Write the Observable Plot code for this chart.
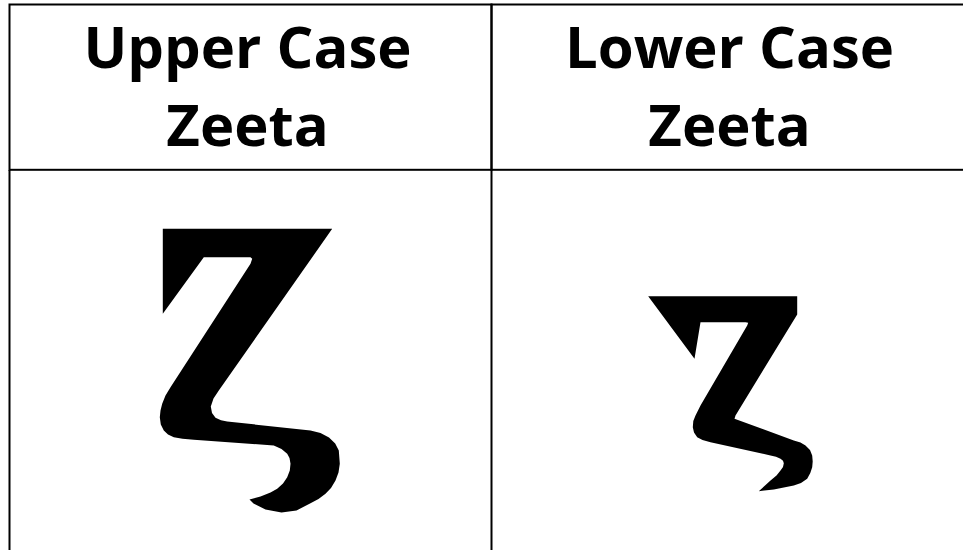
<!DOCTYPE html>
<html>
<head>
<meta charset="utf-8">
<script src="https://cdn.jsdelivr.net/npm/d3@7"></script>
<script src="https://cdn.jsdelivr.net/npm/@observablehq/plot@0.6"></script>
<style>
  html, body { margin: 0; padding: 0; background: #fff; overflow: hidden; width: 963px; height: 550px; }
  svg { display: block; max-width: none !important; }
</style>
</head>
<body>
<div id="chart"></div>
<script>
// Table columns (header text)
const columns = ["Upper Case\nZeeta", "Lower Case\nZeeta"];

// Glyph outlines, in cell units
// (u: offset from cell centre, v: distance down from the top of the body row)
const upperZetaU = [-87.7, 81.7, -31.7, -37, -39.7, -38.5, -35, -29.5, -23.3, 60, 70, 78.5, 84.7, 88.3, 89.3, 88, 85, 80.5, 75, 68, 60, 46, 31, 15, 3, -1, 10, 20, 26.7, 32.5, 36.7, 39.3, 40, 39, 36.7, 31, 23.3, -56.7, -68, -76.7, -82.5, -86.7, -89.7, -90.7, -90, -88.3, -85, -80, 0, 1.7, 0, -46.7, -87.7];
const upperZetaV = [58.3, 58.3, 220, 228, 236, 242.5, 247.3, 249.8, 251, 260, 262.5, 267, 273, 280, 293.3, 302, 310, 317.5, 323.3, 328.5, 332.7, 340, 342, 339, 333, 329, 326, 322, 318.3, 313, 306.7, 300, 293.3, 287.5, 283.3, 278.5, 275, 269.3, 268.3, 266.7, 264, 260, 254, 246.7, 240, 233.3, 225, 216.7, 93.3, 88.3, 86.7, 86.7, 143.3];

const lowerZetaU = [-84.3, 64.7, 64.7, 3, 2, 61.3, 68, 73, 77.5, 79.7, 80.2, 79.7, 77.8, 74.7, 68.5, 61.3, 41.3, 26.3, 38, 44, 48, 50.5, 51.3, 50.5, 48, 43.5, 38, -22, -30, -35.3, -38.5, -39.7, -39.2, -37, -32, 14.7, 15.7, 13, -32, -38];
const lowerZetaV = [125.7, 125.7, 144, 245, 248.3, 270, 272, 275, 279.5, 285, 291, 296.7, 302.5, 308.3, 312.5, 315, 319, 320.7, 310, 305, 300, 296.5, 292.7, 290.3, 288.3, 286.3, 285, 271.7, 269.5, 266.7, 262, 256.7, 250.5, 245, 235, 155, 152.3, 151.7, 151.7, 188.3];

const glyphs = [
  ...upperZetaU.map((u, i) => ({column: columns[0], u, v: upperZetaV[i]})),
  ...lowerZetaU.map((u, i) => ({column: columns[1], u, v: lowerZetaV[i]}))
];

const font = "'Open Sans', 'DejaVu Sans', sans-serif";

const header = Plot.plot({
  width: 973,
  height: 170,
  marginLeft: 9,
  marginRight: 0,
  marginTop: 4,
  marginBottom: 0.7,
  style: {maxWidth: "none", background: "white", overflow: "visible"},
  fx: {domain: columns, padding: 0, axis: null},
  marks: [
    Plot.frame({stroke: "black", strokeWidth: 2}),
    Plot.text(columns, {
      fx: d => d,
      text: d => d,
      frameAnchor: "middle",
      dx: -3,
      dy: -5.5,
      fontSize: 58,
      fontWeight: "bold",
      fontFamily: font,
      lineHeight: 1.345,
      fill: "black"
    })
  ]
});

const body = Plot.plot({
  width: 973,
  height: 380,
  marginLeft: 9,
  marginRight: 0,
  marginTop: 0,
  marginBottom: 0,
  style: {maxWidth: "none", background: "white"},
  fx: {domain: columns, padding: 0, axis: null},
  x: {domain: [-241, 241], axis: null},
  y: {domain: [0, 380], reverse: true, axis: null},
  marks: [
    Plot.frame({anchor: "left", stroke: "black", strokeWidth: 2}),
    Plot.line(glyphs, {fx: "column", x: "u", y: "v", fill: "black", stroke: "none", curve: "linear"})
  ]
});

const root = document.getElementById("chart");
root.appendChild(header);
root.appendChild(body);
</script>
</body>
</html>
